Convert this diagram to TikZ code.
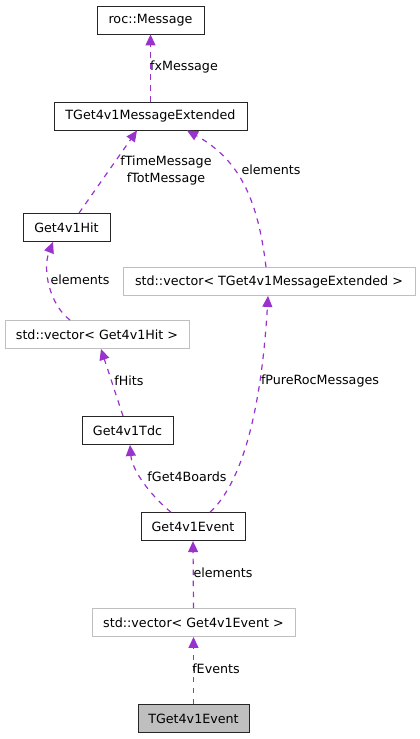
\documentclass[tikz,border=0pt]{standalone}
\usepackage{fontspec}
\setmainfont{DejaVu Sans}
\usetikzlibrary{arrows.meta}
\definecolor{edgec}{HTML}{9A32CD}
\definecolor{grayb}{HTML}{BFBFBF}
\begin{document}
\begin{tikzpicture}[x=1pt,y=-1pt,
  font=\fontsize{12.7}{15}\selectfont,
  cls/.style={draw=black!85,line width=0.9pt,inner sep=0pt,minimum height=28pt,fill=white},
  tmpl/.style={draw=grayb,line width=0.9pt,inner sep=0pt,minimum height=28pt,fill=white},
  rel/.style={draw=edgec,line width=1.2pt,dash pattern=on 5.5pt off 5.5pt,
    -{Triangle[length=11pt,width=10pt,fill=edgec]}},
  lbl/.style={inner sep=0pt,text=black}]
\useasboundingbox (0,0) rectangle (420,739);
\node[cls,minimum width=107pt] (roc) at (150.5,20) {roc::Message};
\node[cls,minimum width=193pt] (msgext) at (150.5,116) {TGet4v1MessageExtended};
\node[cls,minimum width=87pt] (hit) at (66.5,227.5) {Get4v1Hit};
\node[tmpl,minimum width=292pt] (vmsg) at (269,281.5) {std::vector< TGet4v1MessageExtended >};
\node[tmpl,minimum width=184pt] (vhit) at (97,334.5) {std::vector< Get4v1Hit >};
\node[cls,minimum width=91pt] (tdc) at (127.5,430.5) {Get4v1Tdc};
\node[cls,minimum width=104pt] (event) at (193,526.7) {Get4v1Event};
\node[tmpl,minimum width=203pt] (vevent) at (193.5,622.5) {std::vector< Get4v1Event >};
\node[cls,minimum width=111pt,fill=grayb] (tevent) at (193.5,718.5) {TGet4v1Event};

\draw[rel] (msgext.north) -- (roc.south);
\node[lbl] (l1) at (184,67) {fxMessage};

\draw[rel] ([xshift=12.5pt]hit.north) -- ([xshift=-13.5pt]msgext.south);
\node[lbl,align=center,font=\fontsize{12.7}{17}\selectfont] (l2) at (166,170.5) {fTimeMessage\\fTotMessage};

\draw[rel] ([xshift=-3pt]vmsg.north) .. controls (258,200) and (240,160) .. ([xshift=36.5pt]msgext.south);
\node[lbl] (l3) at (271,170) {elements};

\draw[rel] ([xshift=-27pt]vhit.north) .. controls (50,305) and (42,270) .. ([xshift=-13.5pt]hit.south);
\node[lbl] (l4) at (80,280) {elements};

\draw[rel] ([xshift=-4.5pt]tdc.north) -- ([xshift=4pt]vhit.south);
\node[lbl] (l5) at (129,381) {fHits};

\draw[rel] ([xshift=-22pt]event.north) .. controls (150,495) and (132,470) .. ([xshift=2.5pt]tdc.south);
\node[lbl] (l6) at (187,477) {fGet4Boards};

\draw[rel] ([xshift=17pt]event.north) .. controls (245,480) and (262,400) .. ([xshift=-1pt]vmsg.south);
\node[lbl] (l7) at (320,381) {fPureRocMessages};

\draw[rel] (vevent.north) -- (event.south);
\node[lbl] (l8) at (223,573) {elements};

\draw[rel] (tevent.north) -- (vevent.south);
\node[lbl] (l9) at (216,669) {fEvents};
\end{tikzpicture}
\end{document}
